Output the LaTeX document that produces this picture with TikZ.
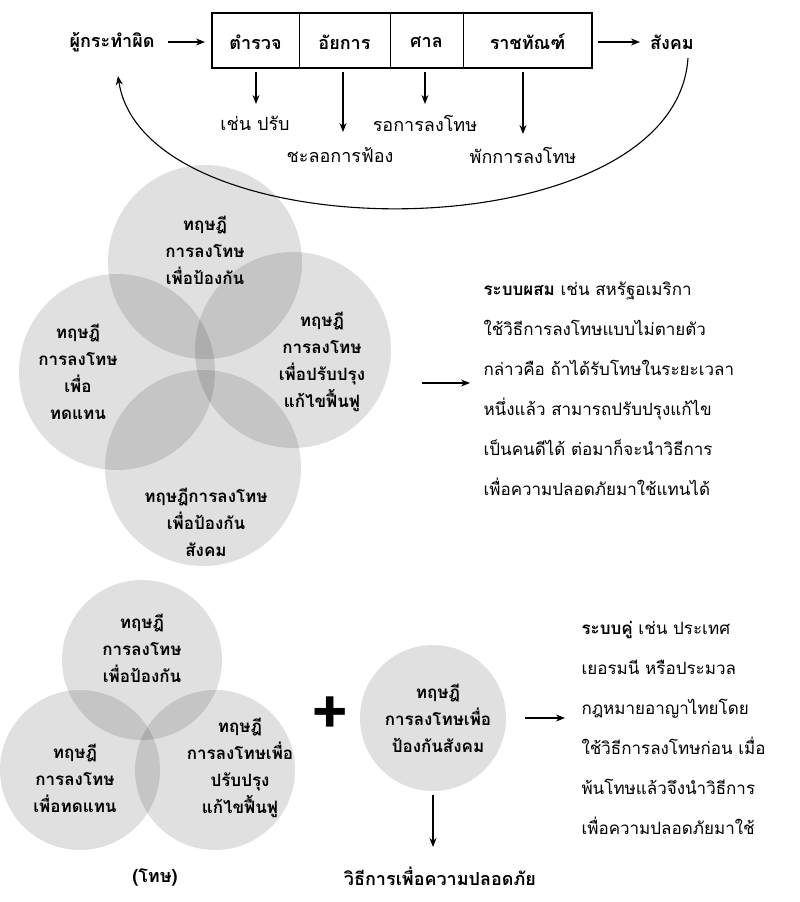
\documentclass[tikz,border=0pt]{standalone}
\usepackage{fontspec}
\setmainfont[Script=Thai]{Loma}
\usetikzlibrary{arrows.meta}
\begin{document}
\begin{tikzpicture}[x=1pt,y=-1pt,
  lbl/.style={font=\fontsize{18}{20}\selectfont},
  blbl/.style={font=\fontsize{18}{20}\selectfont\bfseries},
  ctext/.style={align=center,font=\fontsize{17}{27}\selectfont\bfseries},
  circ/.style={fill=black,fill opacity=0.12},
  arr/.style={-{Stealth[length=9pt,width=7pt]},line width=1.1pt},
  para/.style={anchor=north west,align=left,font=\fontsize{17}{40}\selectfont}]
\useasboundingbox (0,0) rectangle (800,902);
% section 1
\draw[line width=1.2pt] (212,13) rectangle (592,68);
\draw[line width=2.5pt] (212,13) -- (592,13);
\draw[line width=1pt] (299,13)--(299,68) (390,13)--(390,68) (463,13)--(463,68);
\node[blbl] (c1) at (255.5,42) {ตำรวจ};
\node[blbl] (c2) at (344.5,42) {อัยการ};
\node[blbl] (c3) at (426.5,42) {ศาล};
\node[blbl] (c4) at (527.5,42) {ราชทัณฑ์};
\node[blbl] (off) at (112,42) {ผู้กระทำผิด};
\node[blbl] (soc) at (672,42) {สังคม};
\draw[arr] (168,42) -- (205,42);
\draw[arr] (598,42) -- (640,42);
\node[lbl] (d1) at (255,123) {เช่น ปรับ};
\node[lbl] (d2) at (340,155) {ชะลอการฟ้อง};
\node[lbl] (d3) at (425,123) {รอการลงโทษ};
\node[lbl] (d4) at (523,155) {พักการลงโทษ};
\draw[arr] (256,72) -- (256,104);
\draw[arr] (343,72) -- (343,132);
\draw[arr] (425,72) -- (425,104);
\draw[arr] (523,72) -- (523,134);
\draw[arr] (688,58) .. controls (675,255) and (145,255) .. (118,76);
% section 2
\fill[circ] (205,262) circle (97);
\fill[circ] (117,372) circle (98);
\fill[circ] (293,350) circle (98);
\fill[circ] (203,468) circle (98);
\node[ctext] (t1) at (205,250) {ทฤษฎี\\การลงโทษ\\เพื่อป้องกัน};
\node[ctext] (t2) at (78,372) {ทฤษฎี\\การลงโทษ\\เพื่อ\\ทดแทน};
\node[ctext] (t3) at (322,362) {ทฤษฎี\\การลงโทษ\\เพื่อปรับปรุง\\แก้ไขฟื้นฟู};
\node[ctext] (t4) at (206,522) {ทฤษฎีการลงโทษ\\เพื่อป้องกัน\\สังคม};
\draw[arr] (422,383) -- (470,383);
\node[para] (p1) at (480,278) {\textbf{ระบบผสม} เช่น สหรัฐอเมริกา\\ใช้วิธีการลงโทษแบบไม่ตายตัว\\กล่าวคือ ถ้าได้รับโทษในระยะเวลา\\หนึ่งแล้ว สามารถปรับปรุงแก้ไข\\เป็นคนดีได้ ต่อมาก็จะนำวิธีการ\\เพื่อความปลอดภัยมาใช้แทนได้};
% section 3
\fill[circ] (142,660) circle (80);
\fill[circ] (80,770) circle (80);
\fill[circ] (215,770) circle (80);
\fill[circ] (433,718) circle (73);
\node[ctext] (u1) at (142,648) {ทฤษฎี\\การลงโทษ\\เพื่อป้องกัน};
\node[ctext] (u2) at (75,778) {ทฤษฎี\\การลงโทษ\\เพื่อทดแทน};
\node[ctext] (u3) at (240,768) {ทฤษฎี\\การลงโทษเพื่อ\\ปรับปรุง\\แก้ไขฟื้นฟู};
\node[ctext] (u4) at (438,718) {ทฤษฎี\\การลงโทษเพื่อ\\ป้องกันสังคม};
\node[font=\fontsize{64}{64}\selectfont\bfseries] (plus) at (330,716) {+};
\draw[arr] (525,718) -- (565,718);
\node[blbl] (safe) at (440,876) {วิธีการเพื่อความปลอดภัย};
\node[blbl] (pun) at (155,878) {(โทษ)};
\draw[arr] (433,795) -- (433,847);
\node[para] (p2) at (578,618) {\textbf{ระบบคู่} เช่น ประเทศ\\เยอรมนี หรือประมวล\\กฎหมายอาญาไทยโดย\\ใช้วิธีการลงโทษก่อน เมื่อ\\พ้นโทษแล้วจึงนำวิธีการ\\เพื่อความปลอดภัยมาใช้};
\end{tikzpicture}
\end{document}
